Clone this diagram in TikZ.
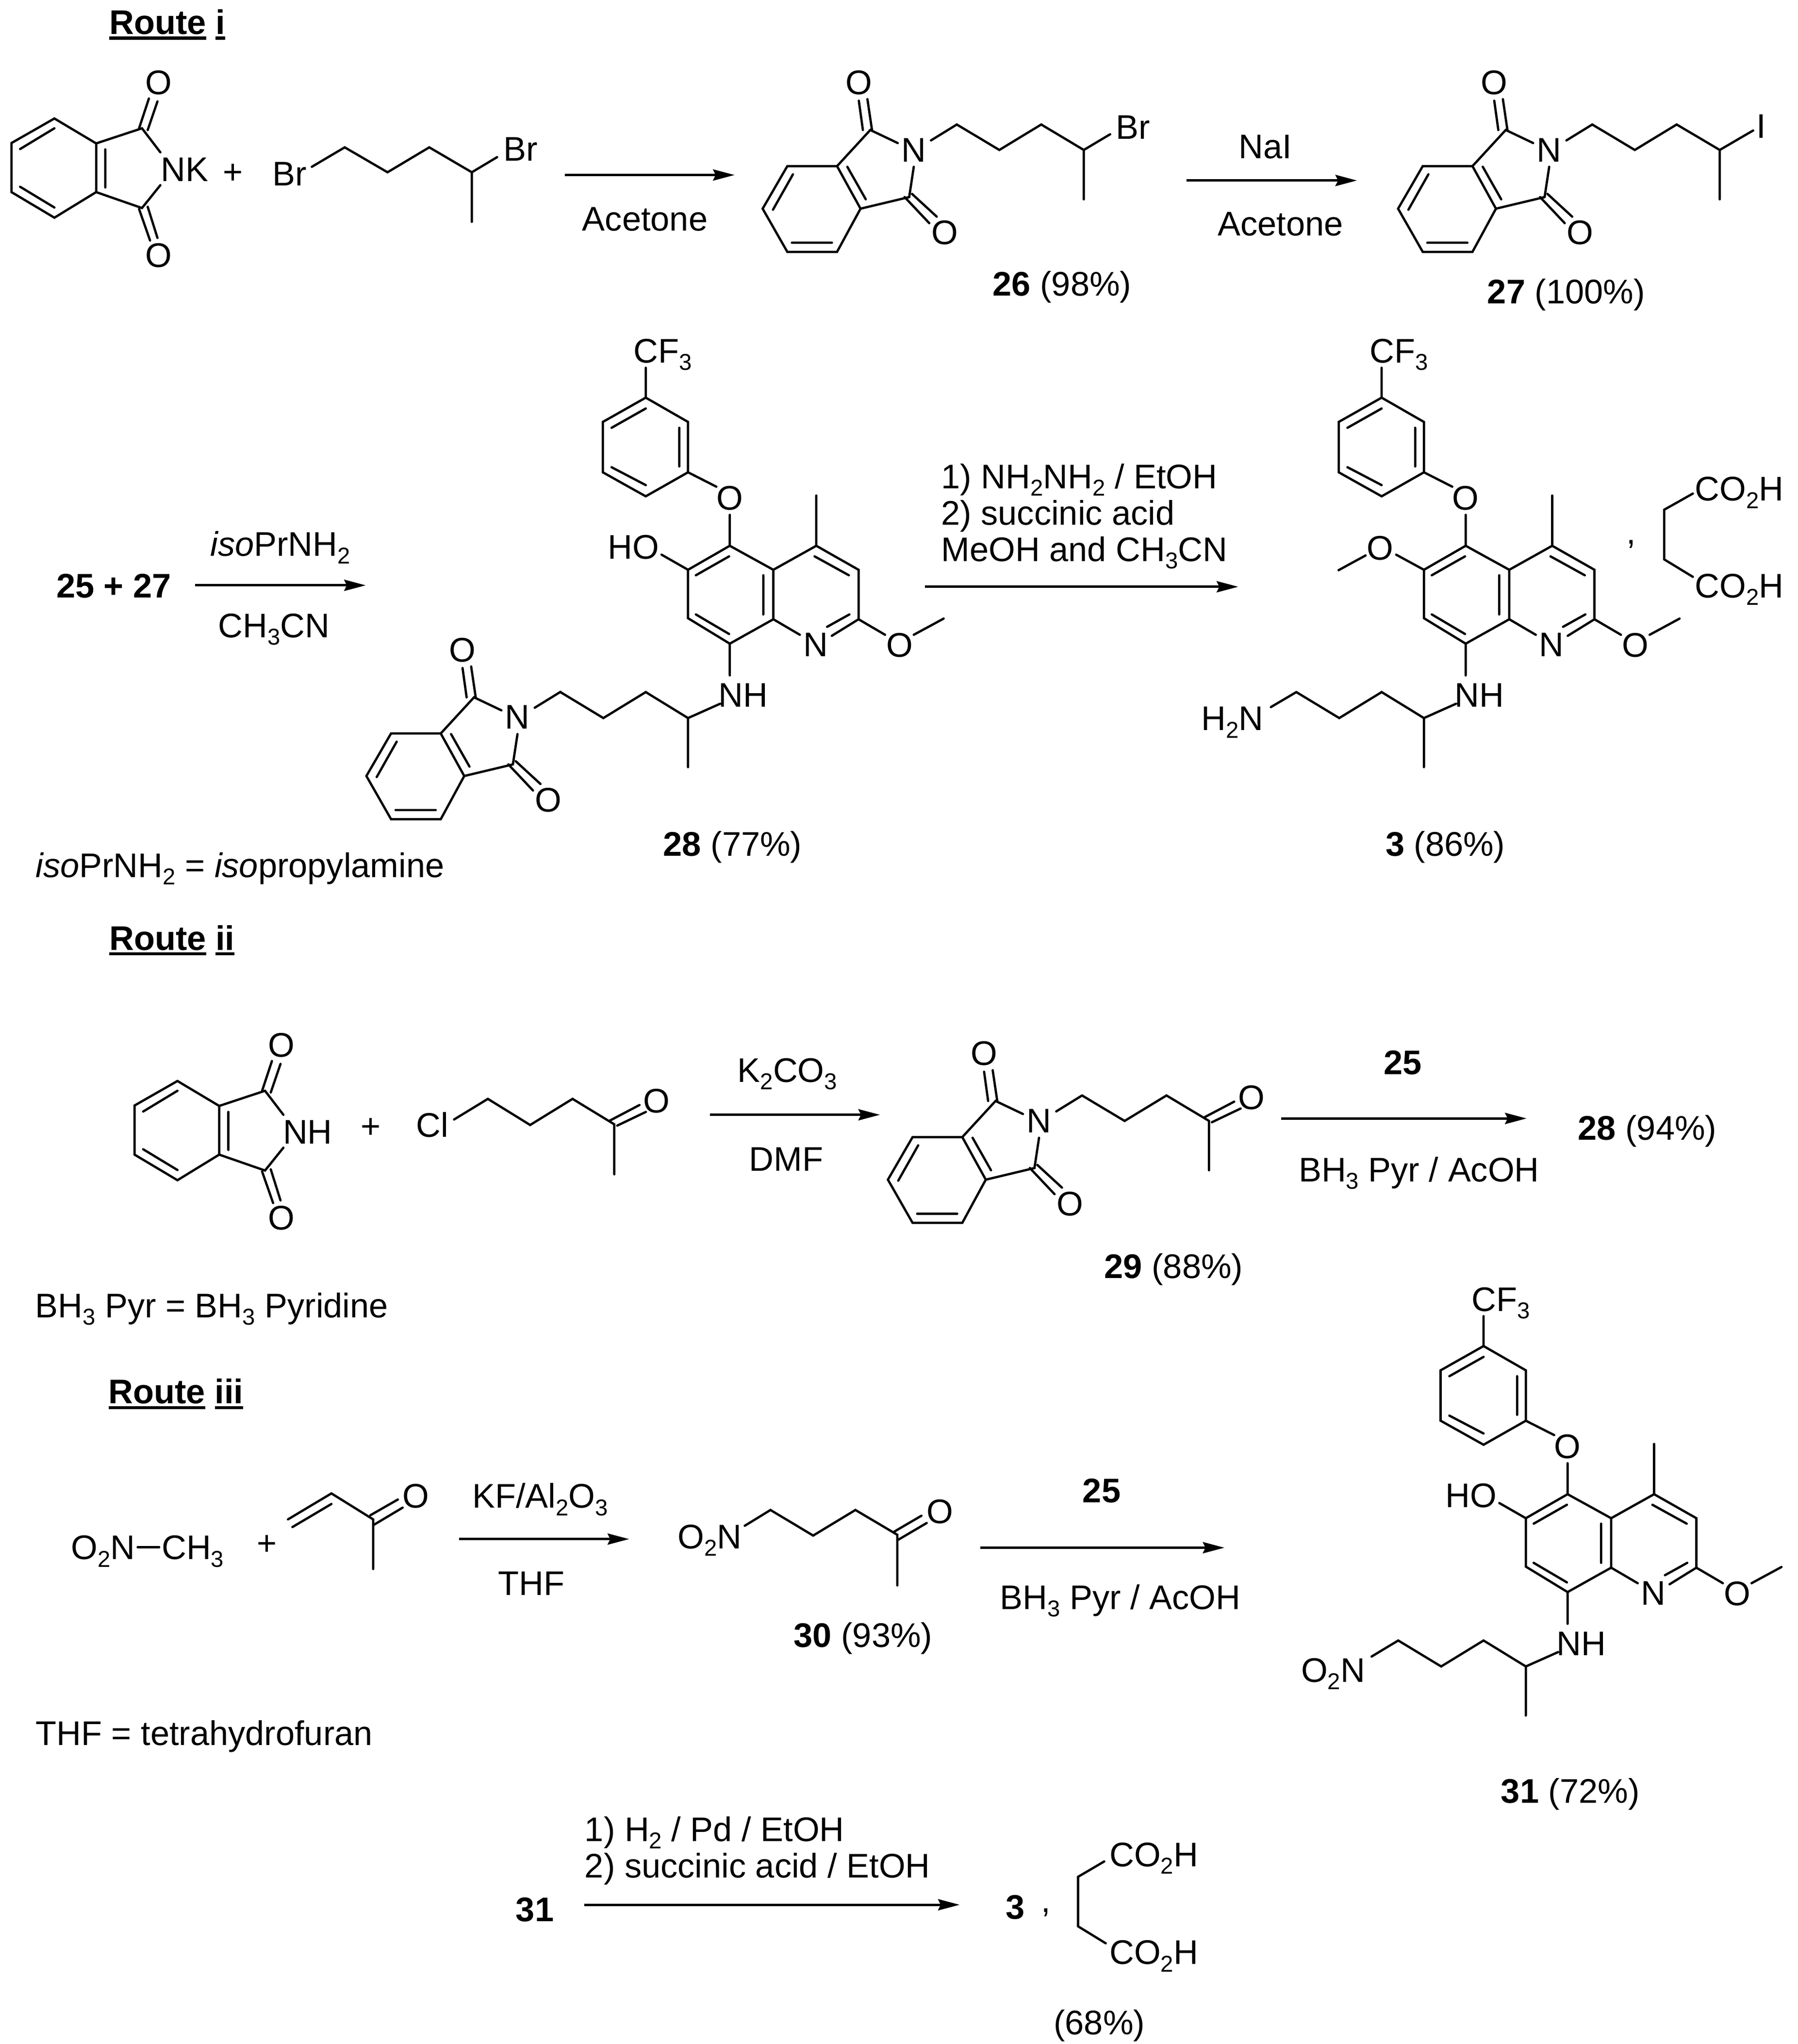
\documentclass[tikz,border=0pt]{standalone}
\usepackage{fontspec}
\setmainfont{Liberation Sans}
\usetikzlibrary{arrows.meta}
\newcommand{\subs}[1]{\raisebox{-0.22em}{\fontsize{10}{10}\selectfont #1}}
\newcommand{\ulin}[1]{\setbox0\hbox{#1}\rlap{\rule[-2.4pt]{\wd0}{1.4pt}}\box0\relax}
% phthalimide, lying flat, NK or NH on the right
\newcommand{\phthflat}[3]{
  \begin{scope}[shift={(#2)}]
    \node[atom] (#1Oa) at (121.5,63) {O};
    \node[atom] (#1Ob) at (121.5,195.5) {O};
    \node[atom] (#1N) at (141.5,129.5) {#3};
    \draw[bond] (41.7,90.8) -- (8.8,109.6) -- (8.8,147.2) -- (41.7,166.8) -- (73.7,147.2) -- (73.7,109.9) -- cycle;
    \draw[bond] (41.7,98.3) -- (15.4,114.2) (15.4,143.1) -- (41.7,159) (80.7,114.5) -- (80.7,143.6);
    \draw[bond] (73.7,109.9) -- (108.8,98.3) -- (122.9,116.7) (73.7,147.2) -- (108.8,159.4) -- (122.9,141.9);
    \draw[bond] (106.6,98.3) -- (114.1,75.5) (113.2,99.6) -- (120.7,77.7);
    \draw[bond] (106.6,160.2) -- (115,184.3) (113.2,158.5) -- (120.7,182.3);
  \end{scope}
}
% phthalimide, tilted, with the first CH2 of its chain
\newcommand{\phthtilt}[2]{
  \begin{scope}[shift={(#2)}]
    \node[atom] (#1Oa) at (658.2,63) {O};
    \node[atom] (#1Ob) at (724,178) {O};
    \node[atom] (#1N) at (700.3,114.5) {N};
    \draw[bond] (603.4,127.3) -- (641.5,127.3) -- (659.5,159.9) -- (641.5,193) -- (603.4,193) -- (584.5,159.9) -- cycle;
    \draw[bond] (607.7,133.6) -- (592.4,160.7) (606.9,186) -- (637.6,186) (649.4,127.8) -- (663.5,152.7);
    \draw[bond] (641.5,127.3) -- (667,99.6) -- (688,109.6) (659.5,159.9) -- (696.8,151) -- (700.3,127.8);
    \draw[bond] (658.2,77.2) -- (661.3,99.6) (664.8,76) -- (668.3,99.6);
    \draw[bond] (693.3,151) -- (712.2,171) (699,148.6) -- (717.9,166);
    \draw[bond] (713.5,107.6) -- (733.3,95.4);
  \end{scope}
}
% the aryloxy quinoline with the side chain, #3 goes at position 6
\newcommand{\quinoline}[3]{
  \begin{scope}[shift={(#2)}]
    \node[atom] (#1cf) at (508,268.5) {CF\subs{3}};
    \node[atom] (#1Oa) at (559.3,381.2) {O};
    \node[atom] (#1Nq) at (625,493.8) {N};
    \node[atom] (#1Ob) at (689.5,494) {O};
    \node[atom] (#1NH) at (569.7,532.4) {NH};
    \draw[bond] (494.9,304.7) -- (527.3,323.3) -- (527.3,361.9) -- (494.9,380.3) -- (462,361.9) -- (462,323.3) -- cycle;
    \draw[bond] (468.7,327.8) -- (494.9,313) (520.6,327.8) -- (520.6,357.4) (468.7,358) -- (494.9,371.7);
    \draw[bond] (494.9,281.8) -- (494.9,304.7) (527.3,361.9) -- (549,372.9) (559.3,394.5) -- (559.3,418.2);
    \draw[bond] (559.3,418.2) -- (527.3,436.6) -- (527.3,473.7) -- (559.3,493.2) -- (592.7,474.5) -- (592.7,436.6) -- cycle;
    \draw[bond] (592.7,436.6) -- (625.6,418.2) -- (658,436.6) -- (658,474.5) -- (637.5,487.2);
    \draw[bond] (592.7,474.5) -- (613,486.4) (625.6,379.7) -- (625.6,418.2);
    \draw[bond] (533.3,440.8) -- (558.8,426.3) (533.3,470.8) -- (558.8,485.8) (585,440.8) -- (585,470.8) (624.3,426.3) -- (650.6,440.8) (633.9,480.3) -- (651,470.8);
    \draw[bond] (658,474.5) -- (678.3,486.4) (700.3,486.4) -- (723.2,474);
    \draw[bond] (559.3,493.2) -- (559.3,517.5) (552,539.2) -- (527.3,550.2) -- (527.3,587.8);
    \draw[bond] (527.3,550.2) -- (494.9,530.3) -- (462.4,550.2) -- (429.5,530.3);
    #3
  \end{scope}
}
\begin{document}
\begin{tikzpicture}[x=0.02cm,y=-0.02cm]
\tikzstyle{every node}=[font=\fontsize{14.9}{16}\selectfont]
\tikzstyle{atom}=[inner sep=0pt, text height=0.375cm, text depth=0pt]
\tikzstyle{txt}=[atom, anchor=west]
\tikzstyle{bond}=[line width=1pt, line cap=round]
\tikzstyle{connect}=[line width=1.1pt, -{Stealth[length=0.33cm,width=0.17cm,inset=0.04cm]}]
\useasboundingbox (0,0) rectangle (1378,1566.2);

  % Route i
  \node[txt] (routea) at (83.4,16.9) {\textbf{\ulin{Route} \ulin{i}}};
  \phthflat{nk}{0,0}{NK}
  \node[atom] (plusa) at (178.6,131.4) {+};
  \node[atom] (bra) at (222,132.8) {Br};
  \node[atom] (brb) at (399,114) {Br};
  \draw[bond] (239,127.8) -- (264.2,112.9) -- (297,132) -- (329,112.9) -- (361.6,132) -- (381,120.4) (361.6,132) -- (361.6,170);
  \coordinate (a1s) at (433,134.1);
  \coordinate (a1e) at (563,134.1);
  \draw[connect] (a1s) -- (a1e);
  \node[atom] (a1b) at (494.3,167.3) {Acetone};

  \phthtilt{p26}{0,0}
  \draw[bond] (733.3,95.4) -- (765.9,114.9) -- (798,95.4) -- (830.6,114.9) -- (850.8,102.9) (830.6,114.9) -- (830.6,152.7);
  \node[atom] (brc) at (868.5,97) {Br};
  \node[txt] (c26) at (760.5,217.5) {\textbf{26} (98\%)};
  \coordinate (a2s) at (909.3,138.3);
  \coordinate (a2e) at (1040,138.3);
  \draw[connect] (a2s) -- (a2e);
  \node[atom] (a2t) at (969.6,112) {NaI};
  \node[atom] (a2b) at (981.3,171.3) {Acetone};

  \phthtilt{p27}{487,0}
  \draw[bond] (1220.3,95.4) -- (1252.9,114.9) -- (1285,95.4) -- (1318,114.9) -- (1343.6,100) (1318,114.9) -- (1318,152.7);
  \node[atom] (iodo) at (1350,96.6) {I};
  \node[txt] (c27) at (1139.6,223.3) {\textbf{27} (100\%)};

  \node[txt] (s25) at (42.8,448.5) {\textbf{25 + 27}};
  \coordinate (a3s) at (149.6,448.5);
  \coordinate (a3e) at (280.3,448.5);
  \draw[connect] (a3s) -- (a3e);
  \node[txt] (a3t) at (160.9,416.8) {\textit{iso}PrNH\subs{2}};
  \node[txt] (a3b) at (166.8,479) {CH\subs{3}CN};

  \quinoline{q28}{0,0}{
    \node[atom] (q28HO) at (485.4,418.8) {HO};
    \draw[bond] (507,425) -- (527.3,436.6);
  }
  \phthtilt{p28}{-303.7,434.7}
  \node[txt] (c28) at (508,646.5) {\textbf{28} (77\%)};
  \node[txt] (iso) at (27,662.8) {\textit{iso}PrNH\subs{2} = \textit{iso}propylamine};

  \node[txt] (a4l1) at (721,364.8) {1) NH\subs{2}NH\subs{2} / EtOH};
  \node[txt] (a4l2) at (721,393) {2) succinic acid};
  \node[txt] (a4l3) at (721,420.6) {MeOH and CH\subs{3}CN};
  \coordinate (a4s) at (709,449.6);
  \coordinate (a4e) at (949,449.6);
  \draw[connect] (a4s) -- (a4e);

  \quinoline{q3}{564,0}{
    \node[atom] (q3Oc) at (493.6,419.7) {O};
    \draw[bond] (506,425) -- (527.3,436.6) (482.6,425.6) -- (461.9,436.9);
  }
  \node[atom, anchor=east] (h2n) at (968.7,550.2) {H\subs{2}N};
  \draw[bond] (974,541.8) -- (993.5,530.3);
  \node[atom] (comma) at (1250.3,407.4) {,};
  \node[txt] (coa) at (1298.7,374.3) {CO\subs{2}H};
  \node[txt] (cob) at (1298.7,448.5) {CO\subs{2}H};
  \draw[bond] (1297.4,378.2) -- (1275.4,390.6) -- (1275.4,428.6) -- (1297.4,442);
  \node[txt] (c3) at (1061.5,646.5) {\textbf{3} (86\%)};

  % Route ii
  \node[txt] (routeb) at (83.4,718.5) {\textbf{\ulin{Route} \ulin{ii}}};
  \phthflat{nh}{94.3,737.5}{NH}
  \node[atom] (plusb) at (284.3,862.6) {+};
  \node[atom] (cl) at (331.3,862) {Cl};
  \draw[bond] (348,857.8) -- (373.9,842) -- (406.3,862) -- (438.8,842) -- (470.8,861.5) -- (470.8,899.8);
  \draw[bond] (467.3,858.7) -- (490.1,846.7) (473,862.5) -- (495,852);
  \node[atom] (ketb) at (503.3,843.2) {O};
  \coordinate (b1s) at (544,854.2);
  \coordinate (b1e) at (674.4,854.2);
  \draw[connect] (b1s) -- (b1e);
  \node[atom] (b1t) at (603.4,819.7) {K\subs{2}CO\subs{3}};
  \node[atom] (b1b) at (602.5,888) {DMF};

  \phthtilt{p29}{96,744}
  \draw[bond] (829.3,839.4) -- (861.9,858.9) -- (894,839.4) -- (926.6,858.9) -- (926.6,896.7);
  \draw[bond] (923.1,856.1) -- (945.9,844.1) (928.8,859.9) -- (950.8,849.4);
  \node[atom] (ketc) at (959.1,840.6) {O};
  \node[txt] (c29) at (846,970) {\textbf{29} (88\%)};
  \coordinate (b2s) at (982,857);
  \coordinate (b2e) at (1170,857);
  \draw[connect] (b2s) -- (b2e);
  \node[atom] (b2t) at (1075,814) {\textbf{25}};
  \node[txt] (b2b) at (995,896) {BH\subs{3} Pyr / AcOH};
  \node[txt] (p28b) at (1209,864) {\textbf{28} (94\%)};
  \node[txt] (bh3) at (26.6,1000.1) {BH\subs{3} Pyr = BH\subs{3} Pyridine};

  % Route iii
  \node[txt] (routec) at (82.8,1066.2) {\textbf{\ulin{Route} \ulin{iii}}};
  \node[txt] (nma) at (54.2,1185.5) {O\subs{2}N};
  \node[txt] (nmb) at (123.6,1185.5) {CH\subs{3}};
  \draw[bond, line width=1.2pt, shorten >=1pt, shorten <=1pt] (nma.east) -- (nmb.west);
  \node[atom] (plusc) at (204.4,1182.2) {+};
  \draw[bond] (220.7,1164.2) -- (254,1144.3) -- (286,1164.2) -- (286,1202.2) (224.1,1170.1) -- (254,1152.4);
  \draw[bond] (283.9,1161) -- (304.9,1149) (287,1168.1) -- (308.6,1155.2);
  \node[atom] (ketd) at (318.8,1146) {O};
  \coordinate (c1s) at (351.8,1179.3);
  \coordinate (c1e) at (482.2,1179.3);
  \draw[connect] (c1s) -- (c1e);
  \node[txt] (c1t) at (361.6,1146.2) {KF/Al\subs{2}O\subs{3}};
  \node[atom] (c1b) at (407.3,1213.1) {THF};

  \node[txt] (n30) at (519,1177.2) {O\subs{2}N};
  \draw[bond] (570.8,1169.1) -- (590.5,1157) -- (623.2,1176.6) -- (655.6,1157) -- (687.7,1176) -- (687.7,1214.8);
  \draw[bond] (685.5,1173.5) -- (706.2,1161.4) (688.6,1179.7) -- (710.2,1167);
  \node[atom] (kete) at (720.4,1158) {O};
  \node[txt] (c30) at (608,1252.8) {\textbf{30} (93\%)};
  \coordinate (c2s) at (751.2,1185.9);
  \coordinate (c2e) at (938.4,1185.9);
  \draw[connect] (c2s) -- (c2e);
  \node[atom] (c2t) at (844.3,1142) {\textbf{25}};
  \node[txt] (c2b) at (766,1223.7) {BH\subs{3} Pyr / AcOH};
  \node[txt] (thf) at (27,1328) {THF = tetrahydrofuran};

  \quinoline{q31}{642.1,726.7}{
    \node[atom] (q31HO) at (485.4,418.8) {HO};
    \draw[bond] (507,425) -- (527.3,436.6);
  }
  \node[atom, anchor=east] (n31) at (1046.6,1279.4) {O\subs{2}N};
  \draw[bond] (1051.2,1269.3) -- (1071.6,1257);
  \node[txt] (c31) at (1150,1372) {\textbf{31} (72\%)};

  \node[atom] (s31) at (409.9,1462.9) {\textbf{31}};
  \coordinate (c3s) at (447.8,1459.5);
  \coordinate (c3e) at (735.5,1459.5);
  \draw[connect] (c3s) -- (c3e);
  \node[txt] (c3l1) at (447.8,1401.5) {1) H\subs{2} / Pd / EtOH};
  \node[txt] (c3l2) at (447.8,1429.4) {2) succinic acid / EtOH};
  \node[atom] (p3) at (778,1461) {\textbf{3}};
  \node[atom] (commb) at (801.5,1455.9) {,};
  \node[txt] (coc) at (850,1420.7) {CO\subs{2}H};
  \node[txt] (cod) at (850,1495.8) {CO\subs{2}H};
  \draw[bond] (846.3,1426.3) -- (826.2,1438.1) -- (826.2,1476) -- (847.4,1489);
  \node[atom] (y68) at (842.5,1549.7) {(68\%)};
\end{tikzpicture}
\end{document}
